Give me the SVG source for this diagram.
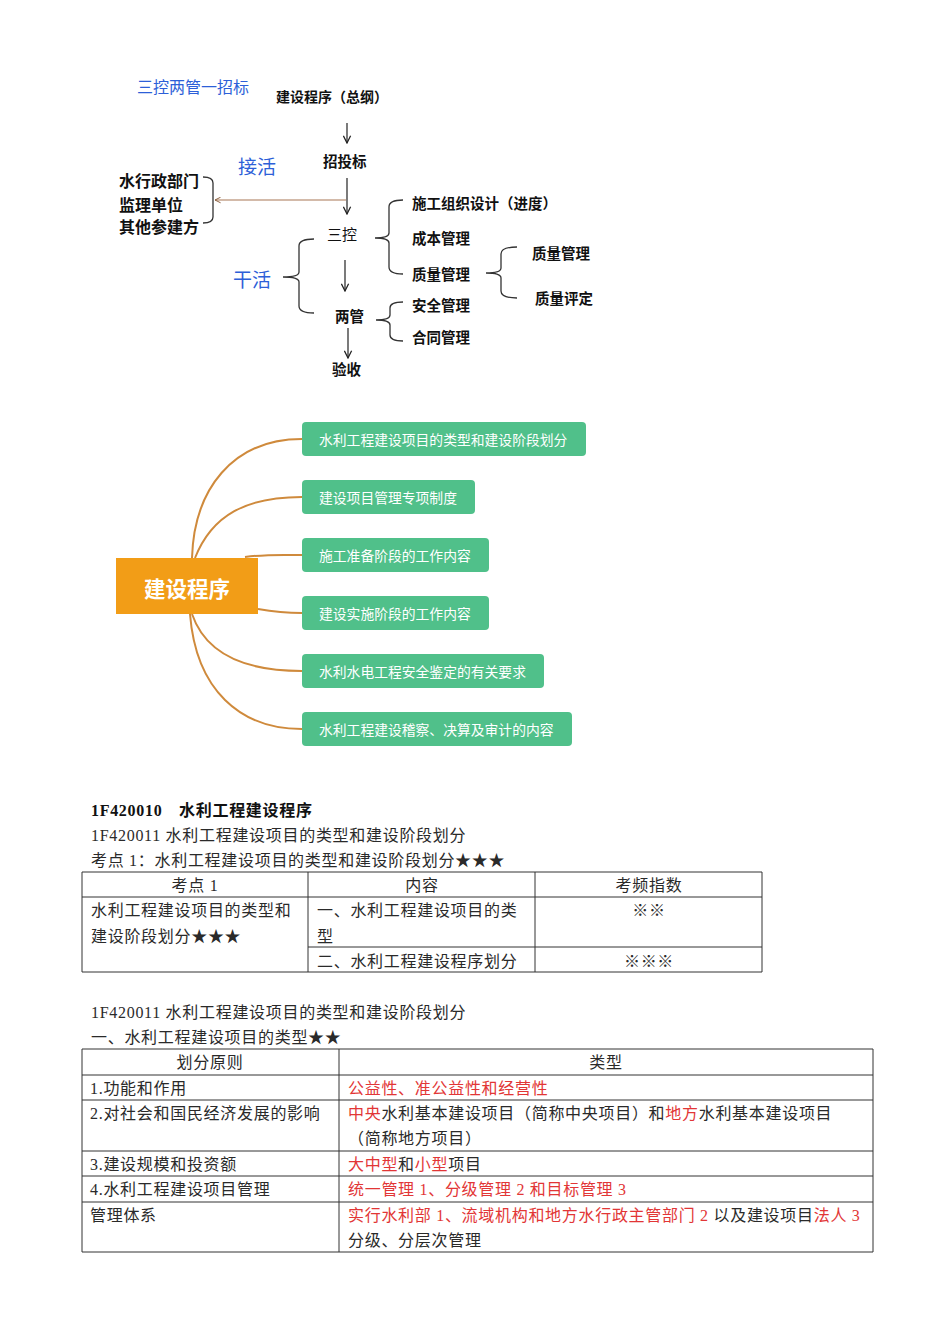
<svg xmlns="http://www.w3.org/2000/svg" width="950" height="1344" viewBox="0 0 950 1344">
<style>
.cj{font-family:"Noto Sans CJK SC","Noto Sans",sans-serif;dominant-baseline:central}
.bl{fill:#2d5fd8;font-size:16px}
.bk{fill:#111;font-weight:bold;font-size:14.5px}
.ln{fill:none;stroke:#222;stroke-width:1.2}
.br{fill:none;stroke:#333;stroke-width:1.3}
.mm{fill:none;stroke:#cf8a3c;stroke-width:2}
.gb{fill:#50c08a}
.gt{fill:#fff;font-size:13.8px}
.t{font-family:"Liberation Serif","Noto Sans CJK SC",serif;font-size:16px;letter-spacing:0.7px;fill:#2a2a2a;dominant-baseline:central}
.r{fill:#e23636}
.grid{fill:none;stroke:#333;stroke-width:1}
</style>
<defs>
<marker id="ah" viewBox="0 0 10 10" refX="9" refY="5" markerWidth="9" markerHeight="9" orient="auto" markerUnits="userSpaceOnUse">
<path d="M1,1 L9,5 L1,9" fill="none" stroke="#222" stroke-width="1.4"/>
</marker>
<marker id="ahb" viewBox="0 0 10 10" refX="9" refY="5" markerWidth="7" markerHeight="7" orient="auto" markerUnits="userSpaceOnUse">
<path d="M1,1 L9,5 L1,9" fill="none" stroke="#8a6040" stroke-width="1.4"/>
</marker>
</defs>
<rect width="950" height="1344" fill="#fff"/>

<!-- Top outline diagram -->
<g id="top-labels">
<text class="cj bl" x="137" y="86">三控两管一招标</text>
<text class="cj bl" x="238" y="165" style="font-size:19px">接活</text>
<text class="cj bl" x="233" y="278" style="font-size:19px">干活</text>
</g>
<g id="n-zonggang"><text class="cj bk" x="276" y="96" style="font-size:14px">建设程序（总纲）</text></g>
<g id="n-zhaotoubiao"><text class="cj bk" x="323" y="160">招投标</text></g>
<g id="n-sankong"><text class="cj bk" x="327" y="233" style="font-weight:normal;font-size:15px">三控</text></g>
<g id="n-liangguan"><text class="cj bk" x="335" y="315">两管</text></g>
<g id="n-yanshou"><text class="cj bk" x="332" y="368">验收</text></g>
<g id="n-left">
<text class="cj bk" x="119" y="180" style="font-size:16px">水行政部门</text>
<text class="cj bk" x="119" y="204" style="font-size:16px">监理单位</text>
<text class="cj bk" x="119" y="226" style="font-size:16px">其他参建方</text>
</g>
<g id="n-sankong-items">
<text class="cj bk" x="412" y="202">施工组织设计（进度）</text>
<text class="cj bk" x="412" y="237">成本管理</text>
<text class="cj bk" x="412" y="273">质量管理</text>
</g>
<g id="n-zhiliang-items">
<text class="cj bk" x="532" y="252">质量管理</text>
<text class="cj bk" x="535" y="297">质量评定</text>
</g>
<g id="n-liangguan-items">
<text class="cj bk" x="412" y="304">安全管理</text>
<text class="cj bk" x="412" y="336">合同管理</text>
</g>

<g id="top-connectors">
<path class="ln" d="M347,123 L347,143" marker-end="url(#ah)"/>
<path class="ln" d="M347,178 L347,214" marker-end="url(#ah)"/>
<path class="ln" d="M345,260 L345,291" marker-end="url(#ah)"/>
<path class="ln" d="M348,328 L348,358" marker-end="url(#ah)"/>
<path d="M346,200 L215,200" fill="none" stroke="#a87654" stroke-width="1.2" marker-end="url(#ahb)"/>
<path class="br" d="M203,177 Q213,177 213,183 L213,217 Q213,223 203,223"/>
<path class="br" d="M403,200 Q389,200 389,207 L389,233 Q389,238 375,238 Q389,238 389,243 L389,267 Q389,274 403,274"/>
<path class="br" d="M314,239 Q299,239 299,246 L299,272 Q299,277 283,277 Q299,277 299,282 L299,306 Q299,313 314,313"/>
<path class="br" d="M517,247 Q501,247 501,254 L501,268 Q501,273 486,273 Q501,273 501,278 L501,291 Q501,298 517,298"/>
<path class="br" d="M403,302 Q390,302 390,308 L390,315 Q390,320 376,320 Q390,320 390,325 L390,335 Q390,341 403,341"/>
</g>

<!-- Mind map -->
<g id="mm-connectors">
<path class="mm" d="M192,558 C194,490 232,439 302,439"/>
<path class="mm" d="M195,558 C212,515 246,497 302,497"/>
<path class="mm" d="M245,557 C268,554 282,555 302,555"/>
<path class="mm" d="M258,609 C275,612 285,613 302,613"/>
<path class="mm" d="M192,614 C206,655 246,671 302,671"/>
<path class="mm" d="M190,614 C196,690 240,729 302,729"/>
</g>
<g id="mm-center">
<rect x="116" y="558" width="142" height="56" fill="#f29d17"/>
<text class="cj" x="187" y="587" text-anchor="middle" style="fill:#fff;font-size:21.5px;font-weight:bold">建设程序</text>
</g>
<g id="mm-1"><rect class="gb" x="302" y="422" width="284" height="34" rx="4"/><text class="cj gt" x="319" y="439">水利工程建设项目的类型和建设阶段划分</text></g>
<g id="mm-2"><rect class="gb" x="302" y="480" width="173" height="34" rx="4"/><text class="cj gt" x="319" y="497">建设项目管理专项制度</text></g>
<g id="mm-3"><rect class="gb" x="302" y="538" width="187" height="34" rx="4"/><text class="cj gt" x="319" y="555">施工准备阶段的工作内容</text></g>
<g id="mm-4"><rect class="gb" x="302" y="596" width="187" height="34" rx="4"/><text class="cj gt" x="319" y="613">建设实施阶段的工作内容</text></g>
<g id="mm-5"><rect class="gb" x="302" y="654" width="242" height="34" rx="4"/><text class="cj gt" x="319" y="671">水利水电工程安全鉴定的有关要求</text></g>
<g id="mm-6"><rect class="gb" x="302" y="712" width="270" height="34" rx="4"/><text class="cj gt" x="319" y="729">水利工程建设稽察、决算及审计的内容</text></g>

<!-- Text section -->
<g id="headings">
<text class="t" x="91" y="810" style="font-weight:bold;fill:#111">1F420010　水利工程建设程序</text>
<text class="t" x="91" y="835">1F420011 水利工程建设项目的类型和建设阶段划分</text>
<text class="t" x="91" y="860">考点 1：水利工程建设项目的类型和建设阶段划分★★★</text>
<text class="t" x="91" y="1012">1F420011 水利工程建设项目的类型和建设阶段划分</text>
<text class="t" x="91" y="1037">一、水利工程建设项目的类型★★</text>
</g>

<g id="table1">
<path class="grid" d="M82,872 H762 V972 H82 Z M82,897 H762 M308,872 V972 M535,872 V972 M308,947 H762"/>
<text class="t" x="195" y="885" text-anchor="middle">考点 1</text>
<text class="t" x="422" y="885" text-anchor="middle">内容</text>
<text class="t" x="649" y="885" text-anchor="middle">考频指数</text>
<text class="t" x="91" y="910">水利工程建设项目的类型和</text>
<text class="t" x="91" y="936">建设阶段划分★★★</text>
<text class="t" x="317" y="910">一、水利工程建设项目的类</text>
<text class="t" x="317" y="936">型</text>
<text class="t" x="649" y="910" text-anchor="middle">※※</text>
<text class="t" x="317" y="961">二、水利工程建设程序划分</text>
<text class="t" x="649" y="961" text-anchor="middle">※※※</text>
</g>

<g id="table2">
<path class="grid" d="M82,1049 H873 V1252 H82 Z M82,1075 H873 M82,1100 H873 M82,1151 H873 M82,1176 H873 M82,1202 H873 M339,1049 V1252"/>
<text class="t" x="210" y="1062" text-anchor="middle">划分原则</text>
<text class="t" x="606" y="1062" text-anchor="middle">类型</text>
<text class="t" x="90" y="1088">1.功能和作用</text>
<text class="t r" x="348" y="1088">公益性、准公益性和经营性</text>
<text class="t" x="90" y="1113">2.对社会和国民经济发展的影响</text>
<text class="t" x="348" y="1113"><tspan class="r">中央</tspan>水利基本建设项目（简称中央项目）和<tspan class="r">地方</tspan>水利基本建设项目</text>
<text class="t" x="348" y="1138">（简称地方项目）</text>
<text class="t" x="90" y="1164">3.建设规模和投资额</text>
<text class="t" x="348" y="1164"><tspan class="r">大中型</tspan>和<tspan class="r">小型</tspan>项目</text>
<text class="t" x="90" y="1189">4.水利工程建设项目管理</text>
<text class="t r" x="348" y="1189">统一管理 1、分级管理 2 和目标管理 3</text>
<text class="t" x="90" y="1215">管理体系</text>
<text class="t" x="348" y="1215"><tspan class="r">实行水利部 1、流域机构和地方水行政主管部门 2 </tspan>以及建设项目<tspan class="r">法人 3</tspan></text>
<text class="t" x="348" y="1240">分级、分层次管理</text>
</g>
</svg>
